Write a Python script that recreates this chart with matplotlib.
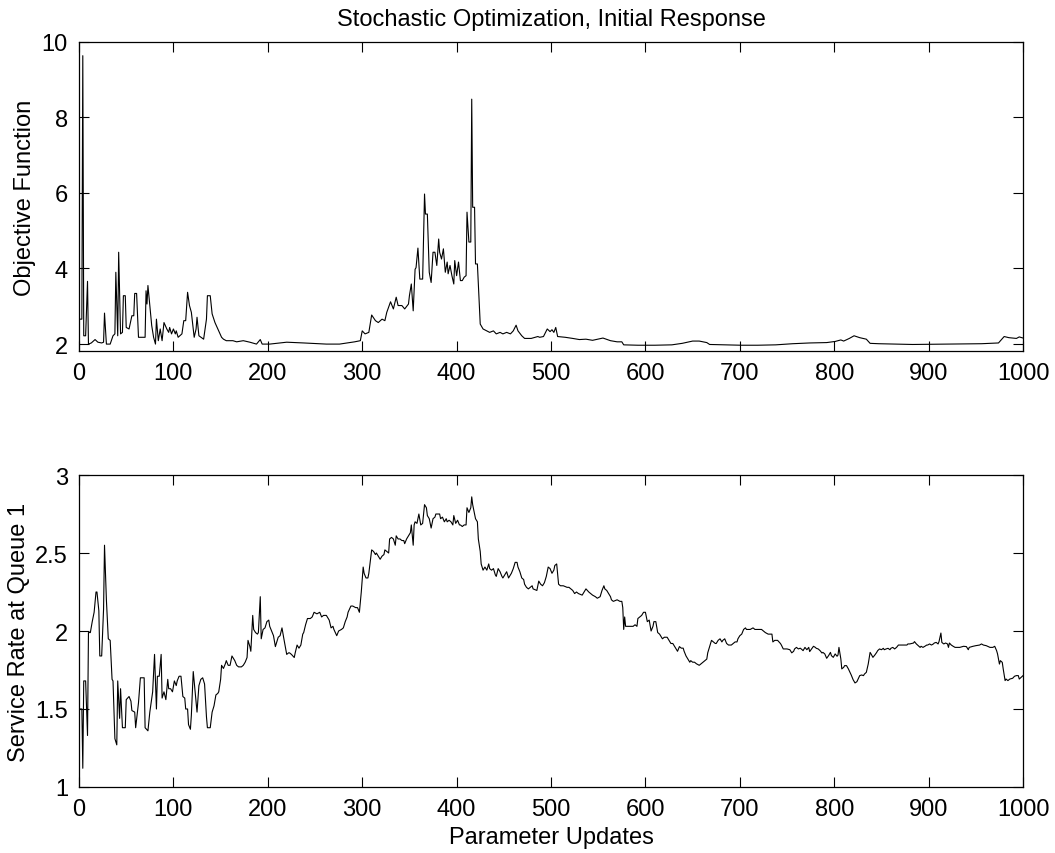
import numpy as np
import matplotlib.pyplot as plt

# values (update index, value)
obj_x = [1, 3, 4, 5, 7, 9, 10, 13, 17, 20, 24, 26, 27, 29, 33, 36, 38, 39, 41, 42, 44, 46, 47, 49, 50,
         53, 56, 58, 59, 61, 63, 70, 71, 72, 73, 75, 77, 79, 81, 82, 84, 86, 88, 90, 93, 95, 96, 98, 100,
         102, 103, 105, 109, 111, 113, 115, 117, 119, 122, 124, 125, 127, 132, 135, 136, 139, 141, 144,
         148, 151, 153, 156, 163, 167, 174, 181, 188, 192, 194, 202, 220, 238, 262, 276, 292, 298, 300,
         303, 307, 310, 314, 317, 321, 324, 326, 330, 333, 336, 338, 342, 345, 349, 350, 352, 354, 356,
         357, 359, 361, 364, 366, 367, 369, 371, 373, 375, 377, 379, 381, 382, 384, 386, 388, 390, 391,
         393, 395, 397, 398, 400, 402, 404, 406, 408, 410, 411, 413, 415, 416, 417, 419, 420, 422, 424,
         425, 428, 432, 435, 439, 442, 446, 449, 453, 457, 460, 463, 465, 469, 472, 479, 486, 488, 492,
         496, 499, 501, 503, 505, 507, 515, 523, 530, 537, 544, 555, 563, 570, 575, 577, 592, 610, 628,
         639, 650, 657, 665, 668, 683, 701, 719, 738, 756, 774, 792, 801, 807, 810, 816, 821, 827, 834,
         838, 847, 883, 920, 956, 974, 980, 985, 993, 996, 1000]
obj_y = [2.66, 2.66, 9.63, 2.22, 2.22, 3.66, 2.0, 2.03, 2.12, 2.05, 2.03, 2.05, 2.82, 2.0, 2.0, 2.22, 2.27,
         3.9, 2.22, 4.43, 2.27, 2.31, 3.28, 3.28, 2.44, 2.4, 2.75, 2.75, 3.34, 3.34, 2.18, 2.18, 3.41,
         3.06, 3.55, 3.02, 2.49, 2.18, 2.0, 2.66, 2.09, 2.4, 2.09, 2.57, 2.4, 2.31, 2.44, 2.27, 2.4, 2.27,
         2.35, 2.18, 2.27, 2.62, 2.62, 3.37, 3.02, 2.84, 2.18, 2.4, 2.71, 2.22, 2.13, 2.66, 3.28, 3.28,
         2.8, 2.57, 2.35, 2.18, 2.13, 2.09, 2.09, 2.06, 2.09, 2.05, 2.0, 2.12, 2.0, 2.0, 2.05, 2.03, 2.0,
         2.0, 2.06, 2.09, 2.35, 2.27, 2.31, 2.77, 2.62, 2.57, 2.66, 2.62, 2.84, 3.12, 2.93, 3.24, 3.02,
         3.02, 2.93, 3.06, 3.28, 3.59, 2.88, 3.98, 4.02, 4.54, 3.72, 3.72, 5.97, 5.44, 5.44, 3.9, 3.63,
         4.43, 4.43, 4.08, 4.78, 4.43, 4.25, 4.52, 3.9, 4.17, 3.86, 4.08, 3.81, 3.59, 4.21, 3.81, 4.17,
         3.68, 3.68, 3.77, 3.81, 5.49, 4.7, 4.7, 8.48, 5.62, 5.62, 4.12, 4.12, 3.1, 2.53, 2.4, 2.35, 2.31,
         2.35, 2.27, 2.31, 2.27, 2.31, 2.27, 2.35, 2.5, 2.35, 2.22, 2.15, 2.15, 2.2, 2.18, 2.2, 2.4, 2.33,
         2.38, 2.31, 2.44, 2.2, 2.18, 2.15, 2.12, 2.13, 2.1, 2.16, 2.09, 2.06, 2.06, 1.98, 1.97, 1.97,
         1.98, 2.02, 2.08, 2.08, 2.04, 1.99, 1.98, 1.97, 1.97, 1.98, 2.01, 2.03, 2.04, 2.07, 2.11, 2.08,
         2.15, 2.22, 2.17, 2.13, 2.02, 2.01, 1.99, 2.0, 2.01, 2.03, 2.2, 2.17, 2.15, 2.19, 2.16]

rate_x = [1, 3, 4, 5, 7, 9, 10, 12, 14, 16, 18, 19, 21, 22, 24, 26, 27, 29, 31, 33, 35, 36, 38, 40, 41,
          43, 44, 46, 49, 50, 53, 55, 56, 59, 60, 63, 65, 69, 70, 73, 75, 78, 80, 82, 83, 85, 87, 88, 90,
          92, 94, 95, 97, 99, 101, 103, 104, 106, 108, 110, 112, 113, 115, 116, 118, 119, 121, 123, 125,
          127, 129, 131, 133, 135, 136, 139, 141, 143, 145, 147, 148, 150, 151, 153, 155, 156, 158, 160,
          162, 165, 167, 169, 172, 174, 176, 178, 179, 181, 182, 184, 185, 187, 189, 190, 192, 193, 195,
          197, 199, 201, 202, 204, 206, 208, 209, 211, 213, 215, 217, 220, 222, 223, 225, 228, 229, 231,
          233, 235, 237, 238, 240, 242, 245, 247, 249, 252, 255, 257, 259, 262, 265, 267, 269, 270, 273,
          275, 278, 280, 282, 284, 285, 288, 290, 293, 295, 297, 299, 301, 302, 304, 306, 307, 310, 312,
          314, 315, 317, 319, 321, 323, 324, 326, 328, 329, 331, 333, 335, 336, 338, 340, 342, 344, 345,
          347, 349, 351, 352, 354, 355, 356, 358, 360, 362, 364, 366, 368, 369, 371, 373, 375, 377, 378,
          380, 382, 383, 385, 387, 389, 390, 392, 394, 396, 397, 399, 401, 403, 404, 406, 408, 410, 411,
          413, 415, 416, 417, 418, 420, 422, 423, 425, 426, 428, 430, 432, 434, 435, 437, 439, 441, 442,
          444, 446, 448, 449, 451, 453, 455, 457, 458, 460, 462, 464, 465, 467, 469, 471, 472, 474, 476,
          478, 480, 481, 485, 487, 489, 491, 493, 495, 497, 499, 501, 503, 504, 506, 508, 510, 513, 517,
          519, 521, 523, 525, 527, 529, 533, 535, 537, 540, 542, 544, 547, 549, 552, 554, 556, 557, 559,
          561, 563, 564, 566, 570, 573, 575, 576, 577, 578, 579, 580, 584, 587, 589, 591, 592, 594, 596,
          598, 600, 601, 602, 604, 606, 608, 609, 611, 613, 615, 617, 618, 620, 623, 625, 627, 629, 631,
          632, 634, 636, 638, 640, 641, 643, 645, 647, 648, 650, 652, 654, 657, 659, 661, 663, 665, 666,
          668, 670, 672, 674, 675, 677, 679, 681, 682, 684, 686, 688, 691, 693, 695, 697, 698, 700, 702,
          704, 706, 707, 711, 714, 716, 718, 721, 723, 725, 727, 730, 734, 735, 737, 740, 743, 744, 746,
          750, 753, 755, 757, 758, 760, 762, 764, 766, 767, 769, 771, 773, 774, 776, 778, 780, 781, 783,
          785, 787, 788, 790, 792, 794, 796, 797, 799, 801, 803, 804, 805, 807, 808, 810, 811, 813, 815,
          817, 818, 820, 822, 824, 825, 827, 829, 831, 832, 834, 836, 838, 839, 841, 843, 845, 846, 848,
          850, 852, 853, 855, 857, 859, 860, 862, 864, 866, 868, 870, 873, 877, 878, 880, 884, 885, 887,
          889, 891, 892, 894, 896, 898, 899, 901, 903, 905, 906, 908, 910, 911, 913, 914, 916, 918, 920,
          921, 922, 924, 926, 928, 929, 933, 937, 940, 942, 943, 947, 950, 954, 956, 958, 961, 965, 968,
          970, 972, 973, 975, 976, 978, 979, 981, 982, 984, 986, 989, 991, 993, 995, 996, 998, 1000]
rate_y = [1.5, 1.5, 1.12, 1.68, 1.68, 1.33, 1.99, 1.99, 2.06, 2.12, 2.25, 2.25, 2.13, 1.84, 1.84, 2.14,
          2.55, 2.2, 1.95, 1.94, 1.69, 1.68, 1.31, 1.27, 1.68, 1.44, 1.63, 1.38, 1.38, 1.56, 1.58, 1.55,
          1.49, 1.48, 1.38, 1.54, 1.7, 1.7, 1.38, 1.36, 1.48, 1.61, 1.85, 1.5, 1.71, 1.71, 1.85, 1.57,
          1.61, 1.56, 1.69, 1.63, 1.63, 1.61, 1.68, 1.65, 1.68, 1.71, 1.71, 1.58, 1.57, 1.5, 1.5, 1.4,
          1.37, 1.46, 1.74, 1.61, 1.48, 1.65, 1.69, 1.7, 1.66, 1.45, 1.38, 1.38, 1.48, 1.52, 1.59, 1.6,
          1.61, 1.69, 1.78, 1.76, 1.79, 1.81, 1.78, 1.78, 1.84, 1.81, 1.78, 1.77, 1.77, 1.78, 1.8, 1.83,
          1.94, 1.9, 1.87, 2.1, 2.01, 1.99, 1.98, 1.99, 2.22, 1.95, 2.01, 2.02, 2.06, 2.07, 2.03, 2.0,
          1.97, 1.9, 1.92, 1.96, 1.97, 2.02, 1.95, 1.85, 1.86, 1.86, 1.85, 1.83, 1.86, 1.91, 1.89, 1.91,
          1.98, 1.99, 2.04, 2.08, 2.08, 2.09, 2.12, 2.11, 2.12, 2.09, 2.1, 2.1, 2.07, 2.02, 2.03, 2.01,
          1.97, 2.0, 2.01, 2.02, 2.06, 2.09, 2.12, 2.16, 2.16, 2.15, 2.15, 2.12, 2.25, 2.41, 2.37, 2.34,
          2.34, 2.37, 2.52, 2.51, 2.49, 2.5, 2.48, 2.46, 2.48, 2.49, 2.52, 2.51, 2.5, 2.59, 2.6, 2.59,
          2.55, 2.61, 2.59, 2.59, 2.58, 2.58, 2.56, 2.59, 2.61, 2.63, 2.68, 2.55, 2.68, 2.7, 2.69, 2.75,
          2.68, 2.69, 2.81, 2.79, 2.74, 2.72, 2.66, 2.72, 2.73, 2.75, 2.75, 2.75, 2.72, 2.73, 2.7, 2.72,
          2.7, 2.71, 2.7, 2.68, 2.74, 2.69, 2.71, 2.68, 2.68, 2.67, 2.68, 2.68, 2.79, 2.76, 2.79, 2.86,
          2.81, 2.78, 2.72, 2.7, 2.59, 2.51, 2.43, 2.39, 2.41, 2.39, 2.43, 2.4, 2.39, 2.4, 2.36, 2.35,
          2.4, 2.38, 2.35, 2.34, 2.36, 2.38, 2.34, 2.36, 2.37, 2.4, 2.44, 2.44, 2.41, 2.38, 2.34, 2.33,
          2.3, 2.28, 2.27, 2.28, 2.29, 2.27, 2.26, 2.32, 2.3, 2.29, 2.31, 2.35, 2.41, 2.4, 2.37, 2.39,
          2.42, 2.43, 2.3, 2.29, 2.29, 2.28, 2.28, 2.27, 2.26, 2.24, 2.25, 2.24, 2.23, 2.25, 2.27, 2.25,
          2.24, 2.23, 2.22, 2.21, 2.22, 2.26, 2.29, 2.27, 2.26, 2.24, 2.22, 2.2, 2.19, 2.2, 2.19, 2.19,
          2.15, 2.01, 2.09, 2.03, 2.03, 2.03, 2.03, 2.04, 2.03, 2.08, 2.09, 2.1, 2.12, 2.12, 2.09, 2.06,
          2.07, 2.0, 2.03, 2.06, 2.06, 1.99, 1.98, 1.96, 1.95, 1.96, 1.96, 1.94, 1.92, 1.92, 1.9, 1.89,
          1.87, 1.9, 1.89, 1.89, 1.87, 1.84, 1.82, 1.8, 1.81, 1.8, 1.8, 1.79, 1.78, 1.79, 1.8, 1.81, 1.82,
          1.86, 1.9, 1.94, 1.93, 1.92, 1.92, 1.94, 1.95, 1.93, 1.94, 1.95, 1.92, 1.91, 1.91, 1.92, 1.93,
          1.93, 1.95, 1.97, 1.98, 2.01, 2.02, 2.01, 2.01, 2.02, 2.01, 2.01, 2.01, 2.01, 2.0, 1.99, 1.98,
          1.98, 1.93, 1.94, 1.94, 1.92, 1.91, 1.885, 1.885, 1.88, 1.86, 1.87, 1.885, 1.895, 1.885, 1.89,
          1.88, 1.874, 1.895, 1.88, 1.895, 1.868, 1.885, 1.902, 1.895, 1.889, 1.885, 1.874, 1.859, 1.863,
          1.853, 1.825, 1.842, 1.863, 1.842, 1.831, 1.853, 1.838, 1.846, 1.895, 1.821, 1.757, 1.767,
          1.778, 1.778, 1.757, 1.731, 1.718, 1.688, 1.667, 1.675, 1.688, 1.714, 1.718, 1.714, 1.724,
          1.735, 1.788, 1.863, 1.853, 1.831, 1.846, 1.863, 1.874, 1.885, 1.88, 1.889, 1.88, 1.885, 1.889,
          1.88, 1.889, 1.895, 1.885, 1.895, 1.91, 1.91, 1.91, 1.91, 1.917, 1.917, 1.923, 1.932, 1.917,
          1.906, 1.895, 1.902, 1.895, 1.902, 1.91, 1.91, 1.917, 1.91, 1.917, 1.923, 1.927, 1.917, 1.932,
          1.987, 1.927, 1.917, 1.923, 1.917, 1.895, 1.923, 1.91, 1.902, 1.895, 1.895, 1.895, 1.902, 1.9,
          1.88, 1.895, 1.902, 1.906, 1.91, 1.917, 1.91, 1.906, 1.895, 1.895, 1.902, 1.874, 1.853, 1.788,
          1.81, 1.799, 1.757, 1.682, 1.692, 1.682, 1.692, 1.697, 1.71, 1.714, 1.714, 1.692, 1.703, 1.714]

plt.rcParams['font.family'] = ['Liberation Sans', 'DejaVu Sans']
plt.rcParams['font.size'] = 17

fig = plt.figure(figsize=(10.55, 8.54), dpi=100)
ax1 = fig.add_axes([0.0749, 0.5875, 0.8948, 0.3625])
ax2 = fig.add_axes([0.0749, 0.0773, 0.8948, 0.3653])

ax1.plot(obj_x, obj_y, color='black', lw=0.8)
ax1.set_xlim(0, 1000)
ax1.set_ylim(1.81, 10)
ax1.set_yticks([2, 4, 6, 8, 10])
ax1.set_ylabel('Objective Function')
ax1.set_title('Stochastic Optimization, Initial Response', fontsize=17, pad=12)

ax2.plot(rate_x, rate_y, color='black', lw=0.8)
ax2.set_xlim(0, 1000)
ax2.set_ylim(1, 3)
ax2.set_yticks([1, 1.5, 2, 2.5, 3])
ax2.set_yticklabels(['1', '1.5', '2', '2.5', '3'])
ax2.set_ylabel('Service Rate at Queue 1')
ax2.set_xlabel('Parameter Updates')

for ax in (ax1, ax2):
    ax.set_xticks(np.arange(0, 1001, 100))
    ax.tick_params(direction='in', length=7, width=0.8, top=True, right=True, pad=8)
    for s in ax.spines.values():
        s.set_linewidth(0.9)

fig.savefig('out.png', dpi=100)
